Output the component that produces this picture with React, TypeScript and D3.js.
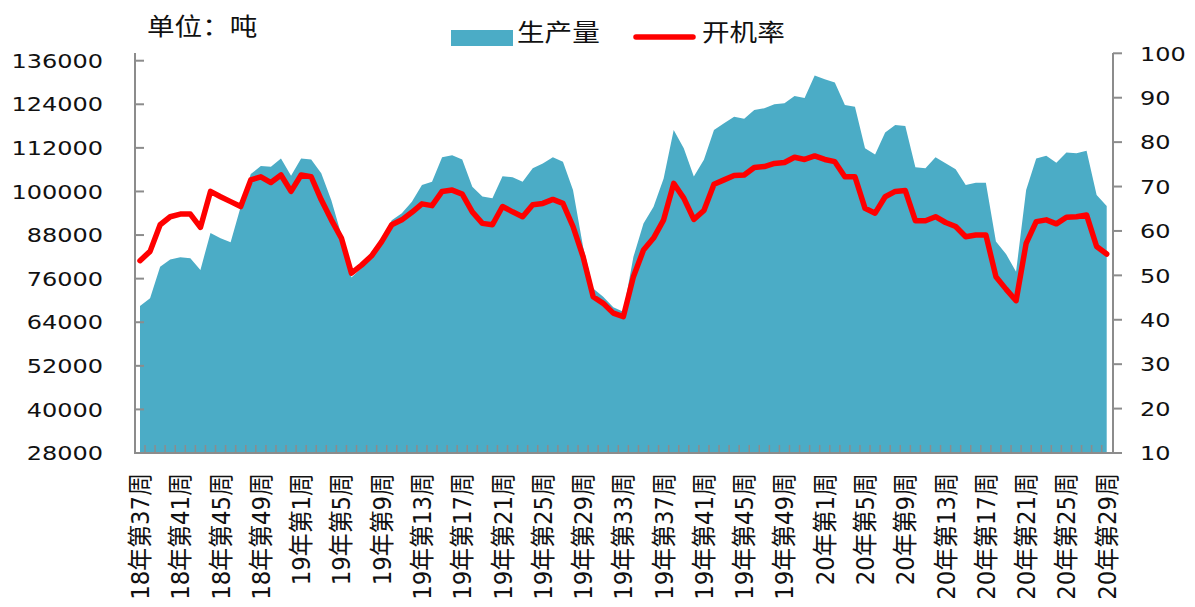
import React from "react";
import * as d3 from "d3";

// ---- data ----
const tickLabels = [
  "18年第37周", "18年第41周", "18年第45周", "18年第49周",
  "19年第1周", "19年第5周", "19年第9周", "19年第13周", "19年第17周", "19年第21周",
  "19年第25周", "19年第29周", "19年第33周", "19年第37周", "19年第41周", "19年第45周", "19年第49周",
  "20年第1周", "20年第5周", "20年第9周", "20年第13周", "20年第17周", "20年第21周", "20年第25周", "20年第29周",
];

const production = [
  68500, 70600, 79300, 81300, 81900, 81600, 78400, 88600, 87100, 86000,
  95800, 104800, 107000, 106800, 109100, 104300, 109100, 108800, 105000, 97600,
  88000, 76300, 78900, 83400, 87100, 92100, 94000, 97200, 101800, 102700,
  109400, 110000, 108800, 101300, 98600, 98100, 104200, 103900, 102700, 106400,
  107700, 109400, 108200, 100400, 84800, 73300, 71000, 68100, 66900, 82000,
  91200, 95800, 103600, 116900, 111900, 104100, 108700, 116900, 118800, 120600,
  120000, 122400, 122900, 124000, 124300, 126300, 125700, 131900, 130900, 130000,
  123800, 123300, 111900, 110200, 116200, 118300, 118000, 106700, 106400, 109400,
  107800, 106100, 101800, 102400, 102400, 86200, 82800, 77900, 100400, 109100,
  109800, 107900, 110700, 110500, 111200, 99000, 96000,
];

const rate = [
  53.3, 55.4, 61.4, 63.2, 63.8, 63.8, 60.8, 68.9, 67.7, 66.6,
  65.5, 71.5, 72.2, 70.9, 72.6, 68.9, 72.6, 72.2, 67.0, 62.5,
  58.4, 50.5, 52.3, 54.4, 57.6, 61.4, 62.5, 64.2, 66.1, 65.7,
  68.9, 69.2, 68.3, 64.3, 61.7, 61.4, 65.5, 64.3, 63.2, 65.9,
  66.2, 67.1, 66.2, 61.0, 54.2, 45.2, 43.7, 41.5, 40.7, 49.7,
  55.7, 58.4, 62.5, 70.7, 67.4, 62.6, 64.6, 70.5, 71.5, 72.5,
  72.6, 74.3, 74.5, 75.2, 75.4, 76.6, 76.1, 76.9, 76.1, 75.6,
  72.2, 72.2, 65.1, 64.0, 67.7, 68.9, 69.1, 62.3, 62.3, 63.2,
  61.9, 61.0, 58.7, 59.1, 59.1, 49.7, 46.9, 44.3, 57.2, 62.1,
  62.5, 61.6, 63.1, 63.2, 63.6, 56.5, 54.8,
];

const leftTicks = [28000, 40000, 52000, 64000, 76000, 88000, 100000, 112000, 124000, 136000];
const rightTicks = [10, 20, 30, 40, 50, 60, 70, 80, 90, 100];

// categories: weekly from 2018 w37 to 2020 w29
const categories: string[] = [];
for (let w = 37; w <= 52; w++) categories.push(`18年第${w}周`);
for (let w = 1; w <= 52; w++) categories.push(`19年第${w}周`);
for (let w = 1; w <= 29; w++) categories.push(`20年第${w}周`);

const W = 1195;
const H = 607;
const FONT = "'DejaVu Sans', 'Noto Sans CJK SC', sans-serif";
const AREA_COLOR = "#4BACC6";
const LINE_COLOR = "#FF0000";
const AXIS_COLOR = "#8C8C8C";

export default function App() {
  const axisLeftX = 135;
  const axisRightX = 1113;
  const baseY = 453;

  const x = d3.scalePoint<string>().domain(categories).range([140, 1106.7]);
  const yL = d3.scaleLinear().domain([28000, 136000]).range([baseY, 60.7]);
  const yR = d3.scaleLinear().domain([10, 100]).range([baseY, 53.3]);

  const area = d3
    .area<number>()
    .x((_, i) => x(categories[i]) as number)
    .y0(yL(28000))
    .y1((d) => yL(d));
  const line = d3
    .line<number>()
    .x((_, i) => x(categories[i]) as number)
    .y((d) => yR(d));

  const step = x.step();

  return (
    <svg
      width={W}
      height={H}
      style={{ position: "absolute", left: 0, top: 0, background: "#fff" }}
      fontFamily={FONT}
    >
      <rect width={W} height={H} fill="#fff" />

      {/* area */}
      <path d={area(production) || ""} fill={AREA_COLOR} />

      {/* axes */}
      <line x1={axisLeftX} x2={axisLeftX} y1={53} y2={baseY + 1} stroke={AXIS_COLOR} strokeWidth={2} />
      <line x1={axisRightX} x2={axisRightX} y1={53} y2={baseY + 1} stroke={AXIS_COLOR} strokeWidth={2} />
      <line x1={axisLeftX - 1} x2={1122} y1={baseY} y2={baseY} stroke={AXIS_COLOR} strokeWidth={2} />

      {leftTicks.map((t) => (
        <g key={"l" + t}>
          <line x1={axisLeftX} x2={axisLeftX + 9} y1={yL(t)} y2={yL(t)} stroke={AXIS_COLOR} strokeWidth={2} />
          <text
            transform={`translate(103,${yL(t)}) scale(1.2,1)`}
            textAnchor="end"
            dy="0.36em"
            fontSize={20}
            fill="#111"
          >
            {t}
          </text>
        </g>
      ))}
      {rightTicks.map((t) => (
        <g key={"r" + t}>
          <line x1={axisRightX} x2={axisRightX + 9} y1={yR(t)} y2={yR(t)} stroke={AXIS_COLOR} strokeWidth={2} />
          <text
            transform={`translate(1140,${yR(t)}) scale(1.2,1)`}
            textAnchor="start"
            dy="0.36em"
            fontSize={20}
            fill="#111"
          >
            {t}
          </text>
        </g>
      ))}

      {/* minor category ticks */}
      {categories.slice(0, categories.length - 1).map((c) => (
        <line
          key={"t" + c}
          x1={(x(c) as number) + step / 2}
          x2={(x(c) as number) + step / 2}
          y1={baseY}
          y2={baseY - 8}
          stroke={AXIS_COLOR}
          strokeWidth={1.5}
        />
      ))}

      {/* line */}
      <path
        d={line(rate) || ""}
        fill="none"
        stroke={LINE_COLOR}
        strokeWidth={5.5}
        strokeLinejoin="round"
        strokeLinecap="round"
      />

      {/* x labels */}
      {tickLabels.map((lab) => (
        <text
          key={lab}
          transform={`translate(${(x(lab) as number) + 9},473) rotate(-90) scale(1.04,1.15)`}
          textAnchor="end"
          fontSize={22}
          fill="#111"
        >
          {lab}
        </text>
      ))}

      {/* unit */}
      <text transform="translate(147,35) scale(1.15,1)" fontSize={24} fill="#111">
        单位：吨
      </text>

      {/* legend */}
      <rect x={451} y={30} width={62} height={16} fill={AREA_COLOR} />
      <text transform="translate(517,41) scale(1.15,1)" fontSize={24} fill="#111">
        生产量
      </text>
      <line x1={636} x2={693} y1={37} y2={37} stroke={LINE_COLOR} strokeWidth={5.5} strokeLinecap="round" />
      <text transform="translate(702,41) scale(1.15,1)" fontSize={24} fill="#111">
        开机率
      </text>
    </svg>
  );
}
